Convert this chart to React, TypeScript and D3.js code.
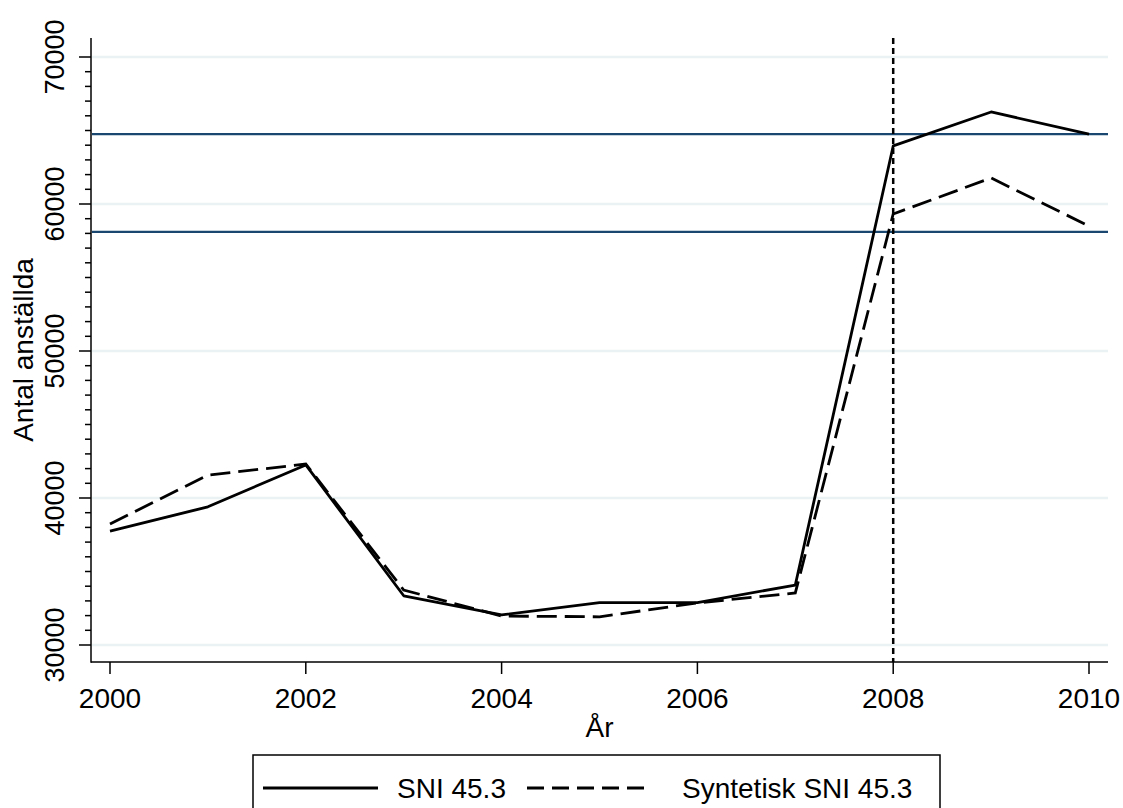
import React, { Component } from "react";
import * as d3 from "d3";

// years on the x axis
const years = [2000, 2001, 2002, 2003, 2004, 2005, 2006, 2007, 2008, 2009, 2010];
// SNI 45.3 (solid)
const sniValues = [37750, 39400, 42250, 33350, 32050, 32880, 32880, 34080, 63950, 66260, 64760];
// Syntetisk SNI 45.3 (dashed)
const syntValues = [38230, 41560, 42310, 33740, 31970, 31920, 32860, 33540, 59320, 61770, 58500];
// reference lines
const hLineValues = [64760, 58100];
const treatYear = 2008;
const yTicks = [30000, 40000, 50000, 60000, 70000];
const xTicks = [2000, 2002, 2004, 2006, 2008, 2010];
const legendLabels = ["SNI 45.3", "Syntetisk SNI 45.3"];

const FONT = "'Liberation Sans', Arial, sans-serif";

class App extends Component {
  svgRef = React.createRef<SVGSVGElement>();

  componentDidMount() {
    this.renderChart();
  }

  componentDidUpdate() {
    this.renderChart();
  }

  renderChart() {
    const svg = d3.select(this.svgRef.current);
    svg.selectAll("*").remove();

    const left = 91, right = 1108, top = 38, bottom = 662;

    const xScale = d3.scaleLinear().domain([2000, 2010]).range([110, 1089]);
    const yScale = d3.scaleLinear().domain([30000, 70000]).range([645, 57]);

    svg.append("rect").attr("width", 1123).attr("height", 808).attr("fill", "white");

    // grid
    svg.append("g")
      .selectAll("line")
      .data(yTicks)
      .join("line")
      .attr("x1", left + 1)
      .attr("x2", right)
      .attr("y1", (d) => yScale(d))
      .attr("y2", (d) => yScale(d))
      .attr("stroke", "#eaf2f3")
      .attr("stroke-width", 2.5);

    // navy reference lines
    svg.append("g")
      .selectAll("line")
      .data(hLineValues)
      .join("line")
      .attr("x1", left + 1)
      .attr("x2", right)
      .attr("y1", (d) => yScale(d))
      .attr("y2", (d) => yScale(d))
      .attr("stroke", "#1a476f")
      .attr("stroke-width", 2.2);

    // vertical dashed line at 2008
    svg.append("line")
      .attr("x1", xScale(treatYear))
      .attr("x2", xScale(treatYear))
      .attr("y1", top)
      .attr("y2", bottom)
      .attr("stroke", "black")
      .attr("stroke-width", 2.5)
      .attr("stroke-dasharray", "6,4");

    const line = d3.line<number>()
      .x((d, i) => xScale(years[i]))
      .y((d) => yScale(d));

    svg.append("path")
      .datum(sniValues)
      .attr("d", line)
      .attr("fill", "none")
      .attr("stroke", "black")
      .attr("stroke-width", 2.8)
      .attr("stroke-linejoin", "round");

    svg.append("path")
      .datum(syntValues)
      .attr("d", line)
      .attr("fill", "none")
      .attr("stroke", "black")
      .attr("stroke-width", 2.8)
      .attr("stroke-dasharray", "20,8");

    // axes lines
    svg.append("line")
      .attr("x1", left).attr("x2", left)
      .attr("y1", top).attr("y2", bottom + 0.75)
      .attr("stroke", "black").attr("stroke-width", 1.5);
    svg.append("line")
      .attr("x1", left).attr("x2", right)
      .attr("y1", bottom).attr("y2", bottom)
      .attr("stroke", "black").attr("stroke-width", 1.5);

    // y minor ticks every 1000
    const minor = d3.range(31000, 70000, 1000).filter((v) => v % 10000 !== 0);
    svg.append("g")
      .selectAll("line")
      .data(minor)
      .join("line")
      .attr("x1", left - 6)
      .attr("x2", left)
      .attr("y1", (d) => yScale(d))
      .attr("y2", (d) => yScale(d))
      .attr("stroke", "black")
      .attr("stroke-width", 1.5);

    // y major ticks
    svg.append("g")
      .selectAll("line")
      .data(yTicks)
      .join("line")
      .attr("x1", left - 12)
      .attr("x2", left)
      .attr("y1", (d) => yScale(d))
      .attr("y2", (d) => yScale(d))
      .attr("stroke", "black")
      .attr("stroke-width", 1.5);

    svg.append("g")
      .selectAll("text")
      .data(yTicks)
      .join("text")
      .attr("transform", (d) => `translate(64, ${yScale(d)}) rotate(-90)`)
      .attr("text-anchor", "middle")
      .attr("font-family", FONT)
      .attr("font-size", 27)
      .text((d) => d);

    // x ticks
    svg.append("g")
      .selectAll("line")
      .data(xTicks)
      .join("line")
      .attr("x1", (d) => xScale(d))
      .attr("x2", (d) => xScale(d))
      .attr("y1", bottom)
      .attr("y2", bottom + 12)
      .attr("stroke", "black")
      .attr("stroke-width", 1.5);

    svg.append("g")
      .selectAll("text")
      .data(xTicks)
      .join("text")
      .attr("x", (d) => xScale(d))
      .attr("y", 708)
      .attr("text-anchor", "middle")
      .attr("font-family", FONT)
      .attr("font-size", 28)
      .text((d) => d);

    // axis titles
    svg.append("text")
      .attr("x", (left + right) / 2)
      .attr("y", 737)
      .attr("text-anchor", "middle")
      .attr("font-family", FONT)
      .attr("font-size", 28)
      .text("År");

    svg.append("text")
      .attr("transform", `translate(33, ${(top + bottom) / 2}) rotate(-90)`)
      .attr("text-anchor", "middle")
      .attr("font-family", FONT)
      .attr("font-size", 28)
      .text("Antal anställda");

    // legend
    const lg = svg.append("g");
    lg.append("rect")
      .attr("x", 253)
      .attr("y", 755)
      .attr("width", 687)
      .attr("height", 80)
      .attr("fill", "white")
      .attr("stroke", "black")
      .attr("stroke-width", 1.5);

    const items = [
      { x1: 263, x2: 378, tx: 397, dash: null },
      { x1: 527, x2: 648, tx: 682, dash: "17,8" },
    ];
    items.forEach((it, i) => {
      lg.append("line")
        .attr("x1", it.x1)
        .attr("x2", it.x2)
        .attr("y1", 788)
        .attr("y2", 788)
        .attr("stroke", "black")
        .attr("stroke-width", 2.8)
        .attr("stroke-dasharray", it.dash);
      lg.append("text")
        .attr("x", it.tx)
        .attr("y", 798)
        .attr("font-family", FONT)
        .attr("font-size", 28)
        .text(legendLabels[i]);
    });
  }

  render() {
    return (
      <svg
        ref={this.svgRef}
        width={1123}
        height={808}
        style={{ position: "absolute", left: 0, top: 0 }}
      ></svg>
    );
  }
}

export default App;
